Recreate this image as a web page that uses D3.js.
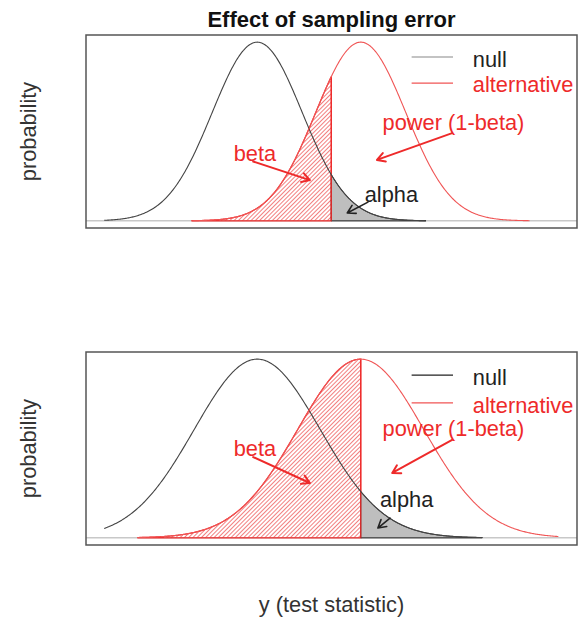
<!DOCTYPE html>
<html>
<head>
<meta charset="utf-8">
<script src="https://cdn.jsdelivr.net/npm/d3@7"></script>
<style>
  body { margin: 0; background: #fff; }
  svg { display: block; font-family: "Liberation Sans", Arial, sans-serif; }
</style>
</head>
<body>
<svg id="chart" width="578" height="619"></svg>
<script>
// values (units of the small-error standard deviation)
const nullMean = [0, 0];
const altMean = [2.3, 2.3];
const sdev = [1, 1.4];
const critical = [1.645, 2.3];
const nullRange = [[-3.4, 3.75], [-3.4, 5.0]];
const altRange = [[-1.45, 6.05], [-2.65, 6.7]];
const xLimits = [-3.4, 6.7];
const legendLabels = ["null", "alternative"];

const red = "#ee2a2a";
const fontSize = 21.8;

function dnorm(x, m, s) {
  return Math.exp(-0.5 * ((x - m) / s) ** 2) / (s * Math.sqrt(2 * Math.PI));
}

function curve(range, m, s) {
  return d3.range(range[0], range[1] + 1e-9, 0.02).map(function (x) {
    return [x, dnorm(x, m, s)];
  });
}

// R style 4% padding
function padded(lo, hi) {
  const d = (hi - lo) * 0.04;
  return [lo - d, hi + d];
}

const svg = d3.select("#chart");
const box = { left: 86, right: 577, height: 193 };
const boxTops = [35, 352];

// annotation layout per panel: x in data units, y as fraction of the peak
const notes = [
  {
    legendY: [0.917, 0.771], legendTextY: [0.861, 0.721],
    nullLegend: "#888",
    power: [4.36, 0.508], beta: [-0.05, 0.335], alpha: [2.98, 0.105],
    powerArrow: [[4.33, 0.491], [2.66, 0.341]],
    betaArrow: [[-0.09, 0.332], [1.17, 0.228]],
    alphaArrow: [[2.46, 0.105], [2.0, 0.044]],
  },
  {
    legendY: [0.911, 0.755], legendTextY: [0.855, 0.699],
    nullLegend: "#222",
    power: [4.36, 0.57], beta: [-0.05, 0.458], alpha: [3.32, 0.173],
    powerArrow: [[4.33, 0.548], [3.0, 0.363]],
    betaArrow: [[-0.09, 0.452], [1.17, 0.307]],
    alphaArrow: [[2.95, 0.111], [2.68, 0.055]],
  },
];

const defs = svg.append("defs");
defs
  .append("pattern")
  .attr("id", "hatch")
  .attr("patternUnits", "userSpaceOnUse")
  .attr("width", 3)
  .attr("height", 3)
  .attr("patternTransform", "rotate(45)")
  .append("line")
  .attr("x1", 0.5)
  .attr("y1", 0)
  .attr("x2", 0.5)
  .attr("y2", 3)
  .attr("stroke", "#f07070")
  .attr("stroke-width", 0.9);

function arrow(g, x, y, pts, color, width) {
  const x1 = x(pts[0][0]), y1 = y(pts[0][1]);
  const x2 = x(pts[1][0]), y2 = y(pts[1][1]);
  const ang = Math.atan2(y2 - y1, x2 - x1);
  const len = 9, spread = Math.PI / 6;
  const path = d3.path();
  path.moveTo(x1, y1);
  path.lineTo(x2, y2);
  path.moveTo(x2 - len * Math.cos(ang - spread), y2 - len * Math.sin(ang - spread));
  path.lineTo(x2, y2);
  path.lineTo(x2 - len * Math.cos(ang + spread), y2 - len * Math.sin(ang + spread));
  g.append("path")
    .attr("d", path.toString())
    .attr("fill", "none")
    .attr("stroke", color)
    .attr("stroke-width", width)
    .attr("stroke-linecap", "round")
    .attr("stroke-linejoin", "round");
}

boxTops.forEach(function (top, i) {
  const bottom = top + box.height;
  const peak = Math.max(dnorm(nullMean[i], nullMean[i], sdev[i]), dnorm(altMean[i], altMean[i], sdev[i]));
  const x = d3.scaleLinear().domain(padded(xLimits[0], xLimits[1])).range([box.left, box.right]);
  const yData = d3.scaleLinear().domain(padded(0, peak)).range([bottom, top]);
  const y = function (f) { return yData(f * peak); };
  const line = d3.line().x(function (d) { return x(d[0]); }).y(function (d) { return yData(d[1]); });
  const note = notes[i];

  defs.append("clipPath").attr("id", "clip" + i)
    .append("rect").attr("x", box.left).attr("y", top)
    .attr("width", box.right - box.left).attr("height", box.height);

  const g = svg.append("g");
  const plot = g.append("g").attr("clip-path", "url(#clip" + i + ")");

  // zero line
  plot.append("line")
    .attr("x1", box.left).attr("x2", box.right)
    .attr("y1", yData(0)).attr("y2", yData(0))
    .attr("stroke", "#c8c8c8").attr("stroke-width", 1.5);

  // beta region: alternative below the critical value
  const altCurve = curve(altRange[i], altMean[i], sdev[i]);
  const beta = altCurve.filter(function (d) { return d[0] <= critical[i]; });
  beta.push([critical[i], dnorm(critical[i], altMean[i], sdev[i])]);
  beta.push([critical[i], 0], [altRange[i][0], 0]);
  plot.append("path")
    .attr("d", line(beta) + "Z")
    .attr("fill", "url(#hatch)")
    .attr("stroke", red)
    .attr("stroke-width", 1.2);

  // alpha region: null above the critical value
  const nullCurve = curve(nullRange[i], nullMean[i], sdev[i]);
  const alpha = [[critical[i], dnorm(critical[i], nullMean[i], sdev[i])]].concat(
    nullCurve.filter(function (d) { return d[0] >= critical[i]; })
  );
  alpha.push([nullRange[i][1], 0], [critical[i], 0]);
  plot.append("path")
    .attr("d", line(alpha) + "Z")
    .attr("fill", "#bebebe")
    .attr("stroke", "#222")
    .attr("stroke-width", 1);
  plot.append("line")
    .attr("x1", x(critical[i])).attr("x2", x(critical[i]))
    .attr("y1", yData(0)).attr("y2", yData(dnorm(critical[i], altMean[i], sdev[i])))
    .attr("stroke", red).attr("stroke-width", 1.2);

  plot.append("path").attr("d", line(nullCurve))
    .attr("fill", "none").attr("stroke", "#444").attr("stroke-width", 1.1);
  plot.append("path").attr("d", line(altCurve))
    .attr("fill", "none").attr("stroke", "#f05555").attr("stroke-width", 1.1);

  // legend
  const legendColors = [note.nullLegend, "#f05555"];
  const legendText = ["#222", red];
  legendLabels.forEach(function (lab, k) {
    g.append("line")
      .attr("x1", x(3.43)).attr("x2", x(4.35))
      .attr("y1", y(note.legendY[k])).attr("y2", y(note.legendY[k]))
      .attr("stroke", legendColors[k]).attr("stroke-width", 1.2);
    g.append("text")
      .attr("x", x(4.79)).attr("y", y(note.legendTextY[k]))
      .attr("fill", legendText[k]).attr("font-size", fontSize)
      .text(lab);
  });

  // annotations
  g.append("text").attr("x", x(note.power[0])).attr("y", y(note.power[1]))
    .attr("text-anchor", "middle").attr("fill", red).attr("font-size", fontSize)
    .text("power (1-beta)");
  g.append("text").attr("x", x(note.beta[0])).attr("y", y(note.beta[1]))
    .attr("text-anchor", "middle").attr("fill", red).attr("font-size", fontSize)
    .text("beta");
  g.append("text").attr("x", x(note.alpha[0])).attr("y", y(note.alpha[1]))
    .attr("text-anchor", "middle").attr("fill", "#222").attr("font-size", fontSize)
    .text("alpha");

  arrow(g, x, y, note.powerArrow, red, 2);
  arrow(g, x, y, note.betaArrow, red, 2);
  arrow(g, x, y, note.alphaArrow, "#222", 1.6);

  // frame
  g.append("rect")
    .attr("x", box.left).attr("y", top)
    .attr("width", box.right - box.left).attr("height", box.height)
    .attr("fill", "none").attr("stroke", "#555").attr("stroke-width", 1.5);

  g.append("text")
    .attr("transform", "translate(28," + (top + box.height / 2) + ") rotate(-90)")
    .attr("text-anchor", "middle").attr("dominant-baseline", "central")
    .attr("fill", "#333").attr("font-size", fontSize)
    .text("probability");
});

svg.append("text")
  .attr("x", (box.left + box.right) / 2).attr("y", 27)
  .attr("text-anchor", "middle").attr("font-weight", "bold")
  .attr("font-size", 22).attr("fill", "#111")
  .text("Effect of sampling error");

svg.append("text")
  .attr("x", (box.left + box.right) / 2).attr("y", 612)
  .attr("text-anchor", "middle").attr("font-size", fontSize).attr("fill", "#333")
  .text("y (test statistic)");
</script>
</body>
</html>
